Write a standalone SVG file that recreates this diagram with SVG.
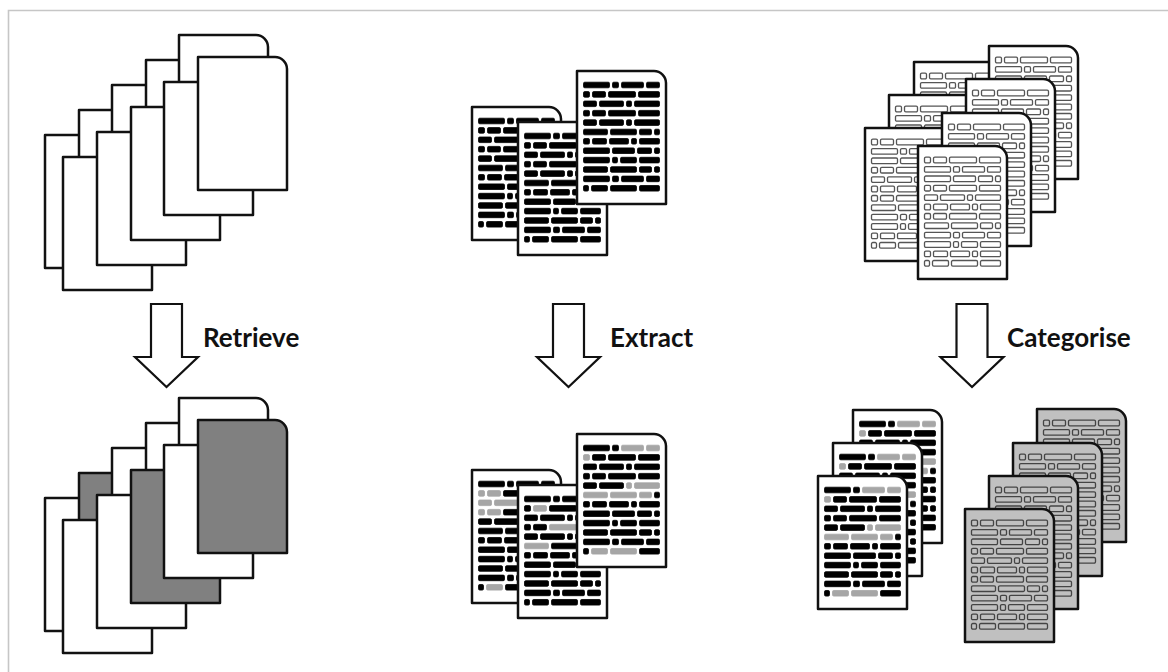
<svg xmlns="http://www.w3.org/2000/svg" width="1168" height="672" viewBox="0 0 1168 672">
<style>
.frame{stroke:#c6c6c6;stroke-width:1.6;fill:none}
.pg{fill:#fff;stroke:#111;stroke-width:2.5;stroke-linejoin:round}
.pg.dk{fill:#808080}
.pg.lt{fill:#c0c0c0}
.arrow{fill:#fff;stroke:#111;stroke-width:2.2;stroke-linejoin:miter}
.label{font-family:Lato,"Open Sans","Liberation Sans",sans-serif;font-weight:700;font-size:26px;fill:#111}
.ink{fill:#000;stroke:#000;stroke-width:0.8}
.out{fill:#fff;stroke:#555;stroke-width:1.3}
.outg{fill:#c0c0c0;stroke:#444;stroke-width:1.3}
.g{fill:#a6a6a6;stroke:#a6a6a6}
</style>
<defs>
  <!-- sheet outline with folded top-right corner -->
  <path id="page" d="M0,0H77A12,12 0 0 1 89,12V133H0Z"/>
  <!-- text line patterns -->
  <g id="R0"><rect x="0" y="-0.6" width="26" height="5.6" rx="1.3"/><rect x="29" y="-0.6" width="6" height="5.6" rx="1.3"/><rect x="38" y="-0.6" width="22" height="5.6" rx="1.3"/><rect x="63" y="-0.6" width="13" height="5.6" rx="1.3"/></g>
  <g id="R1"><rect x="0" y="-0.6" width="6" height="5.6" rx="1.3"/><rect x="9" y="-0.6" width="13" height="5.6" rx="1.3"/><rect x="25" y="-0.6" width="27" height="5.6" rx="1.3"/><rect x="55" y="-0.6" width="21" height="5.6" rx="1.3"/></g>
  <g id="R2"><rect x="0" y="-0.6" width="13" height="5.6" rx="1.3"/><rect x="16" y="-0.6" width="24" height="5.6" rx="1.3"/><rect x="43" y="-0.6" width="5" height="5.6" rx="1.3"/><rect x="51" y="-0.6" width="25" height="5.6" rx="1.3"/></g>
  <g id="R3"><rect x="0" y="-0.6" width="24" height="5.6" rx="1.3"/><rect x="27" y="-0.6" width="26" height="5.6" rx="1.3"/><rect x="56" y="-0.6" width="12" height="5.6" rx="1.3"/><rect x="71" y="-0.6" width="5" height="5.6" rx="1.3"/></g>
  <g id="R4"><rect x="0" y="-0.6" width="6" height="5.6" rx="1.3"/><rect x="9" y="-0.6" width="14" height="5.6" rx="1.3"/><rect x="26" y="-0.6" width="19" height="5.6" rx="1.3"/><rect x="48" y="-0.6" width="5" height="5.6" rx="1.3"/><rect x="56" y="-0.6" width="20" height="5.6" rx="1.3"/></g>
  <g id="R5"><rect x="0" y="-0.6" width="26" height="5.6" rx="1.3"/><rect x="29" y="-0.6" width="22" height="5.6" rx="1.3"/><rect x="54" y="-0.6" width="14" height="5.6" rx="1.3"/><rect x="71" y="-0.6" width="5" height="5.6" rx="1.3"/></g>
  <g id="R6"><rect x="0" y="-0.6" width="26" height="5.6" rx="1.3"/><rect x="29" y="-0.6" width="5" height="5.6" rx="1.3"/><rect x="37" y="-0.6" width="16" height="5.6" rx="1.3"/><rect x="56" y="-0.6" width="20" height="5.6" rx="1.3"/></g>
  <g id="R7"><rect x="0" y="-0.6" width="5" height="5.6" rx="1.3"/><rect x="8" y="-0.6" width="16" height="5.6" rx="1.3"/><rect x="27" y="-0.6" width="26" height="5.6" rx="1.3"/><rect x="56" y="-0.6" width="20" height="5.6" rx="1.3"/></g>

  <!-- full text blocks -->
  <g id="txtA" transform="translate(6.5,0)">
    <use href="#R0" y="11.8"/><use href="#R1" y="21.2"/><use href="#R2" y="30.6"/><use href="#R1" y="40"/>
    <use href="#R2" y="49.4"/><use href="#R3" y="58.8"/><use href="#R4" y="68.1"/><use href="#R5" y="77.5"/>
    <use href="#R6" y="86.9"/><use href="#R3" y="96.3"/><use href="#R0" y="105.7"/><use href="#R7" y="115.1"/>
  </g>
  <g id="txtB" transform="translate(6.5,0)">
    <use href="#R1" y="11.8"/><use href="#R0" y="21.2"/><use href="#R5" y="30.6"/><use href="#R1" y="40"/>
    <use href="#R2" y="49.4"/><use href="#R4" y="58.8"/><use href="#R1" y="68.1"/><use href="#R3" y="77.5"/>
    <use href="#R0" y="86.9"/><use href="#R6" y="96.3"/><use href="#R4" y="105.7"/><use href="#R7" y="115.1"/>
  </g>
  <!-- text blocks with highlighted (grey) phrases -->
  <g id="mA" transform="translate(6.5,0)">
    <g transform="translate(0,11.8)"><rect x="0" y="-0.6" width="26" height="5.6" rx="1.3"/><rect x="29" y="-0.6" width="6" height="5.6" rx="1.3"/><rect class="g" x="38" y="-0.6" width="22" height="5.6" rx="1.3"/><rect class="g" x="63" y="-0.6" width="13" height="5.6" rx="1.3"/></g>
    <g transform="translate(0,21.2)"><rect class="g" x="0" y="-0.6" width="6" height="5.6" rx="1.3"/><rect x="9" y="-0.6" width="13" height="5.6" rx="1.3"/><rect x="25" y="-0.6" width="27" height="5.6" rx="1.3"/><rect x="55" y="-0.6" width="21" height="5.6" rx="1.3"/></g>
    <use href="#R2" y="30.6"/><use href="#R1" y="40"/>
    <g transform="translate(0,49.4)"><rect x="0" y="-0.6" width="13" height="5.6" rx="1.3"/><rect x="16" y="-0.6" width="24" height="5.6" rx="1.3"/><rect class="g" x="43" y="-0.6" width="5" height="5.6" rx="1.3"/><rect class="g" x="51" y="-0.6" width="25" height="5.6" rx="1.3"/></g>
    <g transform="translate(0,58.8)"><rect class="g" x="0" y="-0.6" width="24" height="5.6" rx="1.3"/><rect class="g" x="27" y="-0.6" width="26" height="5.6" rx="1.3"/><rect class="g" x="56" y="-0.6" width="12" height="5.6" rx="1.3"/><rect x="71" y="-0.6" width="5" height="5.6" rx="1.3"/></g>
    <use href="#R4" y="68.1"/><use href="#R5" y="77.5"/><use href="#R6" y="86.9"/><use href="#R3" y="96.3"/><use href="#R0" y="105.7"/>
    <g transform="translate(0,115.1)"><rect x="0" y="-0.6" width="5" height="5.6" rx="1.3"/><rect class="g" x="8" y="-0.6" width="16" height="5.6" rx="1.3"/><rect class="g" x="27" y="-0.6" width="26" height="5.6" rx="1.3"/><rect x="56" y="-0.6" width="20" height="5.6" rx="1.3"/></g>
  </g>
  <g id="mB" transform="translate(6.5,0)">
    <use href="#R0" y="11.8"/>
    <g transform="translate(0,21.2)"><rect x="0" y="-0.6" width="6" height="5.6" rx="1.3"/><rect class="g" x="9" y="-0.6" width="13" height="5.6" rx="1.3"/><rect x="25" y="-0.6" width="27" height="5.6" rx="1.3"/><rect x="55" y="-0.6" width="21" height="5.6" rx="1.3"/></g>
    <use href="#R2" y="30.6"/>
    <g transform="translate(0,40)"><rect x="0" y="-0.6" width="6" height="5.6" rx="1.3"/><rect x="9" y="-0.6" width="13" height="5.6" rx="1.3"/><rect class="g" x="25" y="-0.6" width="27" height="5.6" rx="1.3"/><rect x="55" y="-0.6" width="21" height="5.6" rx="1.3"/></g>
    <use href="#R2" y="49.4"/>
    <g transform="translate(0,58.8)"><rect class="g" x="0" y="-0.6" width="24" height="5.6" rx="1.3"/><rect x="27" y="-0.6" width="26" height="5.6" rx="1.3"/><rect x="56" y="-0.6" width="12" height="5.6" rx="1.3"/><rect x="71" y="-0.6" width="5" height="5.6" rx="1.3"/></g>
    <use href="#R4" y="68.1"/><use href="#R5" y="77.5"/><use href="#R6" y="86.9"/><use href="#R3" y="96.3"/><use href="#R0" y="105.7"/><use href="#R7" y="115.1"/>
  </g>
  <g id="mC" transform="translate(6.5,0)">
    <use href="#R0" y="11.8"/>
    <g transform="translate(0,21.2)"><rect class="g" x="0" y="-0.6" width="6" height="5.6" rx="1.3"/><rect class="g" x="9" y="-0.6" width="13" height="5.6" rx="1.3"/><rect x="25" y="-0.6" width="27" height="5.6" rx="1.3"/><rect x="55" y="-0.6" width="21" height="5.6" rx="1.3"/></g>
    <g transform="translate(0,30.6)"><rect class="g" x="0" y="-0.6" width="13" height="5.6" rx="1.3"/><rect class="g" x="16" y="-0.6" width="24" height="5.6" rx="1.3"/><rect x="43" y="-0.6" width="5" height="5.6" rx="1.3"/><rect x="51" y="-0.6" width="25" height="5.6" rx="1.3"/></g>
    <g transform="translate(0,40)"><rect class="g" x="0" y="-0.6" width="6" height="5.6" rx="1.3"/><rect class="g" x="9" y="-0.6" width="13" height="5.6" rx="1.3"/><rect x="25" y="-0.6" width="27" height="5.6" rx="1.3"/><rect x="55" y="-0.6" width="21" height="5.6" rx="1.3"/></g>
    <use href="#R2" y="49.4"/><use href="#R3" y="58.8"/><use href="#R4" y="68.1"/><use href="#R5" y="77.5"/>
    <use href="#R6" y="86.9"/><use href="#R3" y="96.3"/><use href="#R0" y="105.7"/>
    <g transform="translate(0,115.1)"><rect x="0" y="-0.6" width="5" height="5.6" rx="1.3"/><rect class="g" x="8" y="-0.6" width="16" height="5.6" rx="1.3"/><rect x="27" y="-0.6" width="26" height="5.6" rx="1.3"/><rect x="56" y="-0.6" width="20" height="5.6" rx="1.3"/></g>
  </g>
</defs>

<rect width="1168" height="672" fill="#fff"/>
<path class="frame" d="M8.5,672V10.5H1168"/>

<!-- retrieve: all documents -->
<g id="all-documents">
  <use href="#page" class="pg" x="45" y="135"/>
  <use href="#page" class="pg" x="79" y="110"/>
  <use href="#page" class="pg" x="112" y="85"/>
  <use href="#page" class="pg" x="146" y="60"/>
  <use href="#page" class="pg" x="179" y="35"/>
  <use href="#page" class="pg" x="63" y="157"/>
  <use href="#page" class="pg" x="97" y="132"/>
  <use href="#page" class="pg" x="131" y="107"/>
  <use href="#page" class="pg" x="164" y="82"/>
  <use href="#page" class="pg" x="198" y="57"/>
</g>

<!-- retrieve: selected documents -->
<g id="retrieved-documents">
  <use href="#page" class="pg" x="45" y="498"/>
  <use href="#page" class="pg dk" x="79" y="473"/>
  <use href="#page" class="pg" x="112" y="448"/>
  <use href="#page" class="pg" x="146" y="423"/>
  <use href="#page" class="pg" x="179" y="398"/>
  <use href="#page" class="pg" x="63" y="520"/>
  <use href="#page" class="pg" x="97" y="495"/>
  <use href="#page" class="pg dk" x="131" y="470"/>
  <use href="#page" class="pg" x="164" y="445"/>
  <use href="#page" class="pg dk" x="198" y="420"/>
</g>

<!-- extract: full text -->
<g id="text-documents">
  <use href="#page" class="pg" x="472" y="107"/><use href="#txtA" class="ink" x="472" y="107"/>
  <use href="#page" class="pg" x="518" y="122"/><use href="#txtA" class="ink" x="518" y="122"/>
  <use href="#page" class="pg" x="577" y="71"/><use href="#txtA" class="ink" x="577" y="71"/>
</g>

<!-- extract: highlighted passages -->
<g id="extracted-text">
  <use href="#page" class="pg" x="472" y="470"/><use href="#mC" class="ink" x="472" y="470"/>
  <use href="#page" class="pg" x="518" y="485"/><use href="#mB" class="ink" x="518" y="485"/>
  <use href="#page" class="pg" x="577" y="434"/><use href="#mA" class="ink" x="577" y="434"/>
</g>

<!-- categorise: unsorted passages -->
<g id="passages">
  <use href="#page" class="pg" x="914" y="62"/><use href="#txtB" class="out" x="914" y="62"/>
  <use href="#page" class="pg" x="989" y="46"/><use href="#txtB" class="out" x="989" y="46"/>
  <use href="#page" class="pg" x="889" y="95"/><use href="#txtB" class="out" x="889" y="95"/>
  <use href="#page" class="pg" x="966" y="79"/><use href="#txtB" class="out" x="966" y="79"/>
  <use href="#page" class="pg" x="865" y="128"/><use href="#txtB" class="out" x="865" y="128"/>
  <use href="#page" class="pg" x="942" y="113"/><use href="#txtB" class="out" x="942" y="113"/>
  <use href="#page" class="pg" x="918" y="146"/><use href="#txtB" class="out" x="918" y="146"/>
</g>

<!-- categorise: two groups -->
<g id="category-a">
  <use href="#page" class="pg" x="853" y="410"/><use href="#mA" class="ink" x="853" y="410"/>
  <use href="#page" class="pg" x="833" y="443"/><use href="#mA" class="ink" x="833" y="443"/>
  <use href="#page" class="pg" x="818" y="476"/><use href="#mA" class="ink" x="818" y="476"/>
</g>
<g id="category-b">
  <use href="#page" class="pg lt" x="1037" y="409"/><use href="#txtB" class="outg" x="1037" y="409"/>
  <use href="#page" class="pg lt" x="1013" y="443"/><use href="#txtB" class="outg" x="1013" y="443"/>
  <use href="#page" class="pg lt" x="989" y="476"/><use href="#txtB" class="outg" x="989" y="476"/>
  <use href="#page" class="pg lt" x="965" y="509"/><use href="#txtB" class="outg" x="965" y="509"/>
</g>

<!-- step arrows with their labels -->
<g id="connectors">
  <path class="arrow" d="M151,304H182V357H198L166.5,387L135,357H151Z"/>
  <text class="label" x="203" y="347">Retrieve</text>
  <path class="arrow" d="M553,304H584V357H600L568.5,387L537,357H553Z"/>
  <text class="label" x="610" y="347">Extract</text>
  <path class="arrow" d="M956.5,304H987.5V357H1003.5L972,387L940.5,357H956.5Z"/>
  <text class="label" x="1007" y="347">Categorise</text>
</g>
</svg>
